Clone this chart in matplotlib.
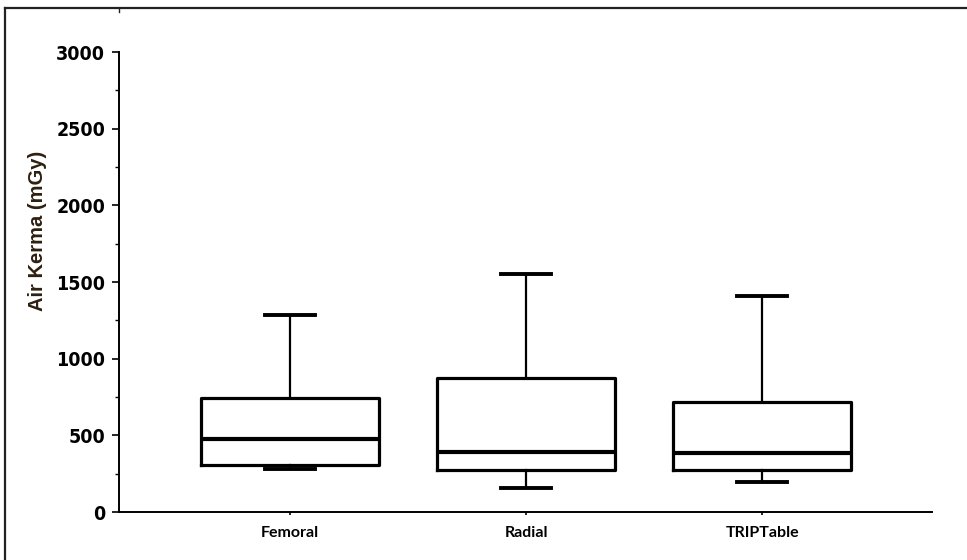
import matplotlib
matplotlib.use('Agg')
import matplotlib.pyplot as plt
from matplotlib.lines import Line2D
from matplotlib.ticker import MultipleLocator

categories = ['Femoral', 'Radial', 'TRIPTable']
whis_lo = [280, 157, 196]
q1 = [307, 274, 274]
medians = [476, 391, 385]
q3 = [744, 874, 718]
whis_hi = [1285, 1552, 1409]

W, H = 967, 560
fig = plt.figure(figsize=(W / 100, H / 100), dpi=100)
ax = fig.add_axes([119 / W, (H - 512) / H, (932 - 119) / W, (512 - 52) / H])

stats = []
for i, name in enumerate(categories):
	stats.append({'label': name, 'whislo': whis_lo[i], 'q1': q1[i], 'med': medians[i],
				  'q3': q3[i], 'whishi': whis_hi[i], 'fliers': []})

ax.bxp(stats, positions=range(len(categories)), widths=0.755, showfliers=False,
	   boxprops=dict(color='black', linewidth=2.3),
	   medianprops=dict(color='black', linewidth=3.0),
	   whiskerprops=dict(color='black', linewidth=1.6),
	   capprops=dict(color='black', linewidth=2.8),
	   capwidths=0.215)

ax.set_xlim(-0.725, 2.72)
ax.set_ylim(0, 3000)
ax.spines['top'].set_visible(False)
ax.spines['right'].set_visible(False)
ax.spines['left'].set_linewidth(1.4)
ax.spines['bottom'].set_linewidth(1.4)

ax.yaxis.set_major_locator(MultipleLocator(500))
ax.yaxis.set_minor_locator(MultipleLocator(250))
ax.tick_params(axis='y', which='major', length=5, width=1.2, direction='out', pad=5)
ax.tick_params(axis='y', which='minor', length=3, width=1.0, direction='out')
ax.tick_params(axis='x', length=2, width=1.2, direction='out', pad=8)

ax.set_xticks(range(len(categories)))
ax.set_xticklabels(categories, family=['Lato', 'DejaVu Sans'], fontweight='bold', fontsize=11.5)
for lbl in ax.get_yticklabels():
	lbl.set_family('DejaVu Sans')
	lbl.set_stretch('condensed')
	lbl.set_fontweight('bold')
	lbl.set_fontsize(14)

ax.set_ylabel('Air Kerma (mGy)', family='Liberation Sans', fontweight='bold',
			  fontsize=14.5, color='#2e2010')
ax.yaxis.set_label_coords(47 / W, (H - 231) / H, transform=fig.transFigure)

# outer frame (top and left only)
fig.add_artist(Line2D([5 / W, 1], [1 - 8 / H, 1 - 8 / H], transform=fig.transFigure, color='#222222', linewidth=1.6))
fig.add_artist(Line2D([5 / W, 5 / W], [0, 1 - 8 / H], transform=fig.transFigure, color='#222222', linewidth=1.6))
fig.add_artist(Line2D([119 / W, 119 / W], [1 - 8 / H, 1 - 12 / H], transform=fig.transFigure, color='#222222', linewidth=1.0))

fig.savefig('out.png', dpi=100)
